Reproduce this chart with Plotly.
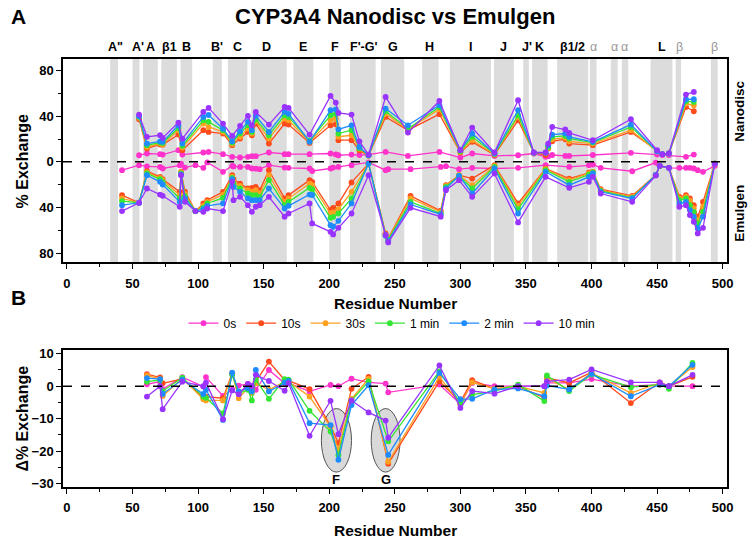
import plotly.graph_objects as go

# ---------------- data ----------------
series_names = ["0s", "10s", "30s", "1 min", "2 min", "10 min"]
series_colors = ["#FF33CC", "#FF4A1C", "#FFA020", "#33E633", "#1E8CFF", "#9933FF"]

# Nanodisc (upper half), % exchange
res_nd = [55, 61, 71, 73, 85, 88, 104, 108, 119, 126, 132, 138, 141, 144, 154, 166, 169, 185, 201, 205, 207,
          217, 223, 230, 243, 260, 284, 300, 309, 326, 344, 356, 365, 367, 370, 380, 383, 401, 430, 450, 454,
          459, 472, 478]
nd_0s = [5.8, 7.3, 6.7, 6.4, 10.2, 6.4, 8.2, 8.7, 6.7, 4.4, 3.8, 4.4, 5, 5, 8.2, 6.7, 6.7, 6.7, 7.3, 6.5, 5.8,
         6.4, 6, 6.4, 8.7, 5.2, 8.7, 3.8, 7.3, 5.2, 5.8, 7.3, 4.4, 5, 6, 5.2, 5.2, 6, 7.9, 6.4, 6,
         6, 4.4, 6.4]
nd_10s = [37.3, 11.7, 15.2, 15, 23.9, 10.2, 27.7, 26.2, 24.8, 14.6, 20.4, 26.2, 23.3, 33.5, 16, 33.5, 32.6, 16.6,
          32, 33, 19, 19, 10, 5.5, 39.3, 27.7, 41.7, 8.2, 17.5, 6, 36.4, 8, 6, 11.7, 18, 19.8, 16, 14.6, 26.2,
          9.3, 6.7, 7.3, 48, 44.3]
nd_30s = [38.5, 13.1, 16, 15.5, 27.7, 12.5, 33.5, 30.6, 26.2, 15.7, 21.9, 29.1, 24.8, 35.5, 20.4, 37.9, 36.4, 17.5,
          36.4, 38, 22, 23.3, 11.5, 5.5, 42.2, 28.3, 46, 8.7, 19, 6.5, 39.3, 8, 8, 12, 19.8, 21, 18, 16, 27.7,
          9.3, 6.7, 7.3, 51, 49.5]
nd_1m = [39.4, 14.6, 16.9, 16.5, 29.7, 14, 36.4, 35, 27.7, 16.9, 24.8, 32, 26.2, 37.3, 23.3, 40.8, 39.3, 18.5,
         40.8, 42, 24.8, 27.7, 12, 5.8, 44.3, 29, 48, 9.3, 21.9, 7, 40.8, 8, 8, 13, 21.9, 22.7, 20.4, 16.9, 30.6,
         9.3, 6.7, 7.3, 53, 52.4]
nd_2m = [40, 16, 18, 17.5, 32, 16, 39.3, 41, 29, 18, 26.8, 35, 27.7, 40.2, 26.2, 43.7, 42, 17.5,
         45.2, 46, 28.5, 32, 13, 5.8, 46.6, 32, 49.5, 10.2, 24.8, 7.3, 45.2, 8, 8, 14.6, 23.9, 24.8, 21.9, 17.5,
         32.6, 9.3, 6.7, 7.3, 54.8, 54.8]
nd_10m = [41.4, 21.9, 23.3, 21, 34.4, 20.4, 43.7, 47.2, 33.5, 22.7, 31.5, 40.2, 32, 43.7, 32.6, 48, 47.2, 23.9,
          57.7, 51.9, 42.8, 41.4, 18, 6.4, 56.8, 25.6, 53.3, 10.2, 30, 8.2, 53.9, 8.2, 8.2, 16, 30.6, 28.3, 25.3,
          18.9, 37.3, 10.2, 6.7, 7.3, 58.9, 61.2]

# Emulgen (lower half), % exchange (drawn downward)
res_em = [42, 55, 61, 71, 73, 86, 87, 90, 98, 104, 107, 119, 126, 127, 132, 138, 141, 144, 147, 154, 166, 169,
          185, 187, 201, 203, 207, 217, 230, 243, 245, 262, 285, 289, 299, 309, 326, 344, 365, 383, 398, 401,
          407, 431, 449, 452, 459, 467, 472, 475, 478, 481, 485, 494]
em_0s = [7.3, 2.9, 4, 4.4, 5.8, 3, 1.5, 5, 2.9, 5.2, 0.5, 8.7, 3.5, 4, 4.4, 4.4, 5.8, 6, 6.4, 2.9, 5, 5.2,
         5.8, 8, 5.8, 5, 4.4, 2.9, 0.5, 7.3, 6.4, 6.4, 4.4, 3.8, 6.4, 5.2, 5.8, 5.2, 2.9, 4.4, 3, 2.3,
         5.2, 8.2, 0.6, 3.5, 5.2, 5.2, 5.2, 5.2, 5.8, 7.3, 8.7, 3.5]
em_10s = [29.1, 35.8, 8.2, 13.1, 15.2, 26.2, 8.7, 26, 43.1, 36.4, 33.5, 26.2, 11.7, 15.2, 19, 23.3, 22.7, 21.9,
          24.8, 7.3, 32, 29.1, 16, 17.5, 42.2, 40.2, 36.4, 18, 1.5, 62.6, 67, 29.7, 42.8, 20.4, 11.7, 14.6, 2.9,
          36.4, 5.8, 14.6, 9.3, 8.7, 23.9, 29.7, 11.5, 3.5, 5.2, 30.6, 29.1, 32, 37.9, 48, 35, 1.5]
em_30s = [32, 35.8, 9.3, 14, 16, 29.1, 9.3, 28, 43.1, 38.5, 35, 28.6, 13.1, 17.5, 21, 24.8, 26.2, 24.8,
          27.7, 11.7, 35, 32, 19, 20.4, 45.2, 44.3, 41.4, 26.2, 1.5, 63.5, 67.6, 32, 43.7, 21, 11.7, 20.4, 3.5,
          38.5, 6.4, 16, 10.2, 8.7, 24.8, 30.6, 11.5, 3.5, 5.2, 32, 30.6, 34, 40.8, 51, 39.3, 1.5]
em_1m = [34.4, 35.8, 10.2, 15.2, 17.5, 32, 10.2, 30, 43.1, 40, 36.4, 31.5, 14, 18.9, 23.3, 27.7, 29.1, 29.1,
         30.6, 16, 37.9, 35, 22.7, 23.9, 49, 48.1, 45.2, 32, 1.5, 64.1, 68.2, 35, 45.2, 21.9, 12.2, 23.3, 4.4,
         41.4, 7.3, 17.5, 11.1, 9.3, 25.4, 31.5, 11.5, 3.5, 5.2, 33.5, 32, 37.9, 43.7, 54, 43.7, 1.5]
em_2m = [37.9, 35.8, 11.7, 17.5, 19.8, 35, 11, 32, 43.1, 41.4, 38.5, 36.4, 15.2, 21.9, 26.2, 32, 33.5, 33.5,
         33.5, 23.3, 40.8, 38.5, 28.6, 29, 55.4, 56.8, 51.6, 36.4, 1.5, 64.7, 69.3, 37.3, 46, 23.3, 12.2, 27.7,
         5.8, 45.2, 8.7, 20.4, 13.1, 10.2, 26.2, 32, 11.5, 3.5, 5.2, 36.4, 35, 42.2, 48, 58.3, 48, 1.5]
em_10m = [43.1, 35.8, 23.3, 28.6, 29.7, 39.3, 11.7, 35, 43.1, 43.7, 40.8, 43.1, 17.5, 33.5, 30.6, 37.9, 43.7,
          39.3, 37.9, 30.6, 48, 45.2, 36.4, 53.9, 61.2, 63.5, 57.7, 45.2, 11.7, 64, 70.5, 40.2, 48, 24.8, 16,
          30.6, 10.2, 53, 13.1, 22.7, 17.5, 13.1, 27.7, 35, 12, 3.5, 5.2, 39.3, 37.9, 46.6, 52.4, 62.6, 57.7, 1.5]

# Delta % exchange (panel B)
res_d = [61, 71, 73, 88, 104, 106, 119, 126, 131, 138, 141, 144, 154, 166, 169, 185, 201, 207, 217, 230, 243,
         245, 284, 300, 309, 326, 344, 364, 366, 383, 400, 430, 452, 459, 477]
d_0s = [0.6, 1.4, -0.9, 2.8, -0.1, 2.8, -3, -1.1, 0.2, 0.7, 0, -1.1, 5, 0.9, 0.9, -1.6, 0.4, 0, 2.3, 1.2, 0.8,
        -1.9, 0.5, -5.5, 1.0, 0, 0, 0, 1, 1, 2.2, 0, 0.5, 0, 0]
d_10s = [3.7, 2.7, 0.9, 2.2, -3.4, -3.2, -3.7, 4, -2.2, 0, -1.1, 1.4, 7.6, 1.9, 1.7, -0.9, -12.3, -17.5, -0.8,
         2.9, None, -23.9, 1.5, -4.9, 1.9, -0.8, 0, -3.6, 2.6, 1, 4.3, -5.2, 1.2, 0, 2.9]
d_30s = [3.3, 2.2, -3.0, 2.4, -4, -4.4, -4.4, 3.8, -3.7, -0.6, -2.1, 0.9, -1.1, 1.4, 1.4, -3.2, -12.5, -19.6,
         -3.9, 2.3, None, -23.3, 2.9, -5.6, 1.2, -0.8, 0, -2.1, 2.3, -1, 4.1, -2.1, 1, 0, 5.9]
d_1m = [1.4, 1.9, -1.5, 2.6, -3.2, -3.6, -8.4, 3.5, -2.2, -1.1, -4.4, 2, -3.9, 2.2, 2, -7.6, -14, -21.2, -4.4,
        1.5, None, -17, 4.6, -5.2, -2.6, -1.5, 0.5, -4.6, 3.3, -1.5, 3.6, -0.3, 0.5, -0.8, 7.2]
d_2m = [2.5, 2.2, -2.4, 2, -2.4, -1.1, -10.4, 4.2, -1.6, -0.6, -1.6, 5, -1.6, 1.1, 1.6, -11.4, -12, -22.7, -5.8,
        0.3, None, -21.2, 4.1, -4, -3.9, -1, -0.7, -3.1, 0.2, -1, 3.8, -3.1, 0.5, 0, 6.6]
d_10m = [-3.2, 0, -7.1, 1.4, 0, 1.1, -10.2, -1.3, -2.5, 0.7, 0, 3.5, 1.6, -1.4, 0.9, -15.3, -4.5, -14.8, -4.4,
         -8.1, -10.6, -15.9, 6.4, -6.7, -1.5, -2.3, 0, 0, 1.5, 2, 5.2, 1.2, 1.2, 0, 3.5]

# Secondary-structure regions (residue ranges) and labels
band_start = [33, 50, 58, 72, 86.6, 111.2, 122.7, 140.4, 172.7, 200.1, 215.8, 239.5, 270.9, 292, 325.6, 347.9,
              354.7, 373.8, 398.7, 414.7, 423.1, 445, 464.2, 491]
band_end = [39, 55.3, 69.3, 83.8, 95.5, 118.1, 137.6, 167.6, 187.9, 208.8, 235.4, 257.2, 283.4, 323.3, 340.8,
            352.2, 366.5, 397.4, 403.8, 420, 428, 461.7, 468.3, 496.2]
helix_labels = ['A"', "A'", "A", "β1", "B", "B'", "C", "D", "E", "F", "F'-G'", "G", "H", "I", "J", "J'", "K",
                "β1/2", "α", "α", "α", "L", "β", "β"]
helix_label_pos = [37, 54, 63.5, 78, 91.4, 114.8, 130, 151.9, 180, 204.4, 226.5, 248.4, 276.8, 307.8, 333.2,
                   350.5, 360.6, 385.5, 401.8, 417.6, 425.4, 454, 466.7, 493.4]
helix_label_minor = [False] * 18 + [True, True, True, False, True, True]

# Highlighted regions in panel B
hl_labels = ["F", "G"]
hl_x = [205.5, 243]
hl_w = [23, 22]
hl_y = [-16.7, -16.7]
hl_h = [19.6, 19.6]

x_ticks = [0, 50, 100, 150, 200, 250, 300, 350, 400, 450, 500]

# ---------------- figure ----------------
FONT = "Liberation Sans"
nd_all = [nd_0s, nd_10s, nd_30s, nd_1m, nd_2m, nd_10m]
em_all = [em_0s, em_10s, em_30s, em_1m, em_2m, em_10m]
d_all = [d_0s, d_10s, d_30s, d_1m, d_2m, d_10m]

fig = go.Figure()
for name, col, nd, em, dd in zip(series_names, series_colors, nd_all, em_all, d_all):
    common = dict(mode="lines+markers", line=dict(color=col, width=1.3),
                  marker=dict(color=col, size=5.8), legendgroup=name, connectgaps=True)
    fig.add_trace(go.Scatter(x=res_nd, y=nd, xaxis="x", yaxis="y", showlegend=False, name=name, **common))
    fig.add_trace(go.Scatter(x=res_em, y=[-v for v in em], xaxis="x", yaxis="y", showlegend=False,
                             name=name, **common))
    fig.add_trace(go.Scatter(x=res_d, y=dd, xaxis="x2", yaxis="y2", showlegend=True, name=name, **common))

shapes = []
for s, e in zip(band_start, band_end):
    shapes.append(dict(type="rect", xref="x", yref="y domain", x0=s, x1=e, y0=0, y1=1,
                       fillcolor="#DCDCDC", line=dict(width=0), layer="below"))
for cx, w, cy, h in zip(hl_x, hl_w, hl_y, hl_h):
    shapes.append(dict(type="circle", xref="x2", yref="y2", x0=cx - w / 2, x1=cx + w / 2,
                       y0=cy - h / 2, y1=cy + h / 2, fillcolor="#D9D9D9",
                       line=dict(color="#555555", width=1), layer="below"))
shapes.append(dict(type="line", xref="x domain", yref="y", x0=0, x1=1, y0=0, y1=0,
                   line=dict(color="black", width=1.5, dash="dash")))
shapes.append(dict(type="line", xref="x2 domain", yref="y2", x0=0, x1=1, y0=0, y1=0,
                   line=dict(color="black", width=1.5, dash="dash")))

PH = 427.7  # plot-area height in px (for paper coords)
PB = 486.7  # bottom of plot area in px


def py(px):
    return (PB - px) / PH


def px_x(px):
    return (px - 62.7) / 664.6


C = dict(xanchor="center", yanchor="middle", showarrow=False)
ann = []
for lab, pos, minor in zip(helix_labels, helix_label_pos, helix_label_minor):
    ann.append(dict(x=pos, y=py(47), xref="x", yref="paper",
                    text=lab if minor else "<b>%s</b>" % lab,
                    font=dict(family=FONT, size=12.5, color="#999999" if minor else "black"), **C))
for lab, cx in zip(hl_labels, hl_x):
    ann.append(dict(x=cx, y=-28.9, xref="x2", yref="y2", text="<b>%s</b>" % lab,
                    font=dict(family=FONT, size=13, color="black"), **C))
ann += [
    dict(x=px_x(395), y=py(17), xref="paper", yref="paper",
         text="<b>CYP3A4 Nanodisc vs Emulgen</b>", font=dict(family=FONT, size=22, color="black"), **C),
    dict(x=px_x(18), y=py(17), xref="paper", yref="paper", text="<b>A</b>",
         font=dict(family=FONT, size=21, color="black"), **C),
    dict(x=px_x(18), y=py(297), xref="paper", yref="paper", text="<b>B</b>",
         font=dict(family=FONT, size=21, color="black"), **C),
    dict(x=px_x(22), y=py(161), xref="paper", yref="paper", text="<b>% Exchange</b>",
         textangle=-90, font=dict(family=FONT, size=16, color="black"), **C),
    dict(x=px_x(22), y=py(418), xref="paper", yref="paper", text="<b>Δ% Exchange</b>",
         textangle=-90, font=dict(family=FONT, size=16, color="black"), **C),
    dict(x=px_x(395), y=py(303), xref="paper", yref="paper", text="<b>Residue Number</b>",
         font=dict(family=FONT, size=15.5, color="black"), **C),
    dict(x=px_x(395), y=py(530), xref="paper", yref="paper", text="<b>Residue Number</b>",
         font=dict(family=FONT, size=15.5, color="black"), **C),
    dict(x=px_x(739), y=py(111), xref="paper", yref="paper",
         text="<b>Nanodisc</b>", textangle=-90, font=dict(family=FONT, size=13.5, color="black"), **C),
    dict(x=px_x(739), y=py(213), xref="paper", yref="paper",
         text="<b>Emulgen</b>", textangle=-90, font=dict(family=FONT, size=13.5, color="black"), **C),
]

tickfont = dict(family=FONT, size=13, color="black", weight="bold")
axis_common = dict(showline=True, linecolor="black", linewidth=1.5, mirror=True, ticks="outside",
                   ticklen=5, tickwidth=1.3, tickcolor="black", showgrid=False, zeroline=False,
                   tickfont=tickfont)
xcommon = dict(range=[-3, 503.3], tickvals=x_ticks, ticktext=[str(t) for t in x_ticks],
               minor=dict(dtick=25, tick0=0, ticks="outside", ticklen=3, tickcolor="black"),
               ticklabelstandoff=3, **axis_common)

fig.update_layout(
    width=754, height=546,
    margin=dict(l=62.7, r=26.7, t=59, b=59.3),
    paper_bgcolor="white", plot_bgcolor="white",
    font=dict(family=FONT, color="black"),
    xaxis=dict(domain=[0, 1], anchor="y", **xcommon),
    yaxis=dict(domain=[0.5247, 1], anchor="x", range=[-88, 90],
               tickvals=[-80, -40, 0, 40, 80], ticktext=["80", "40", "0", "40", "80"],
               minor=dict(tickvals=[-60, -20, 20, 60], ticks="outside", ticklen=3, tickcolor="black"),
               **axis_common),
    xaxis2=dict(domain=[0, 1], anchor="y2", **xcommon),
    yaxis2=dict(domain=[0, 0.3196], anchor="x2", range=[-31.1, 11.1],
                tickvals=[-30, -20, -10, 0, 10],
                minor=dict(dtick=5, tick0=0, ticks="outside", ticklen=3, tickcolor="black"),
                **axis_common),
    shapes=shapes,
    annotations=ann,
    legend=dict(orientation="h", x=px_x(392), y=py(323), xanchor="center", yanchor="middle",
                font=dict(family=FONT, size=12, color="black"), bgcolor="rgba(0,0,0,0)",
                itemwidth=30, tracegroupgap=0),
    showlegend=True,
)

fig.write_html("out.html", config={"displayModeBar": False},
               post_script="document.body.style.margin='0px';document.body.style.overflow='hidden';")
